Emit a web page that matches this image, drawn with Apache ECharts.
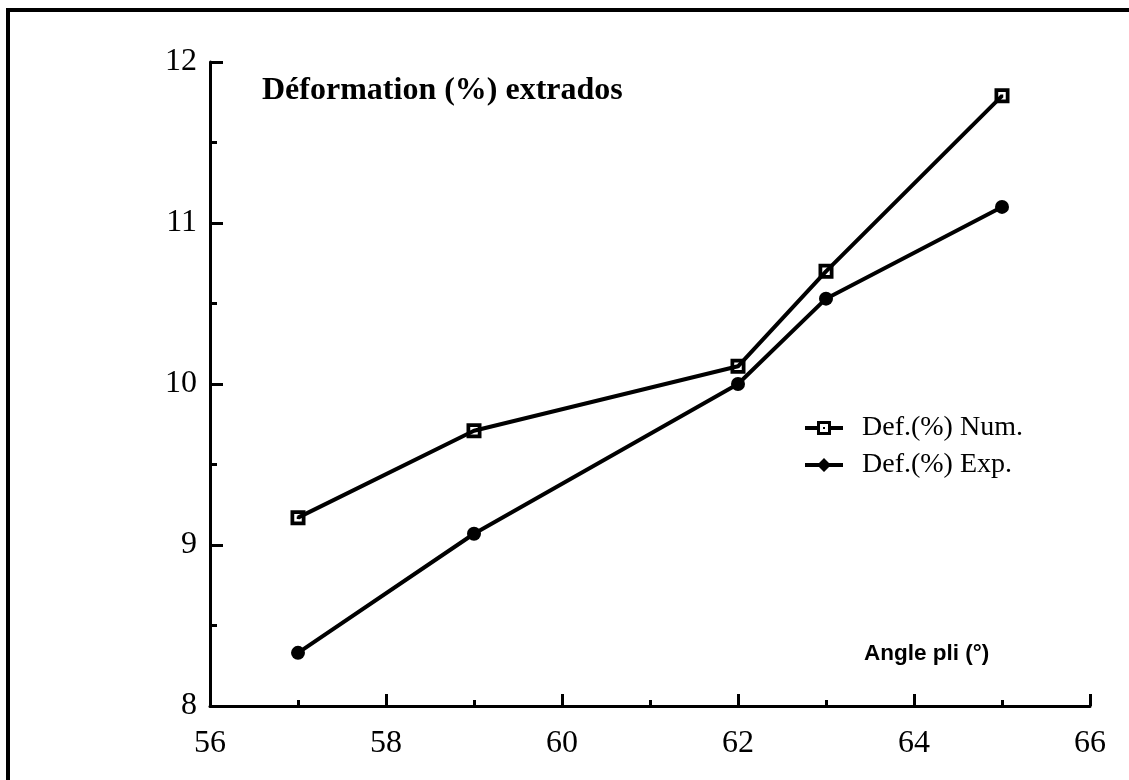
<!DOCTYPE html>
<html>
<head>
<meta charset="utf-8">
<script src="https://cdn.jsdelivr.net/npm/echarts@6/dist/echarts.min.js"></script>
<style>
  html, body { margin: 0; padding: 0; background: #fff; }
  #chart { width: 1129px; height: 780px; }
</style>
</head>
<body>
<div id="chart"></div>
<script>
// Bending angle (°) and outer-fibre strain (%)
const angles = [57, 59, 62, 63, 65];
const defNum = [9.17, 9.71, 10.11, 10.70, 11.79];
const defExp = [8.33, 9.07, 10.00, 10.53, 11.10];
const seriesNames = ['Def.(%) Num.', 'Def.(%) Exp.'];
const titleText = 'Déformation (%) extrados';
const xAxisName = 'Angle pli (°)';

const serif = '"Liberation Serif", "Times New Roman", serif';
const sans = '"Liberation Sans", Arial, sans-serif';

// open square with a centre dot (nonzero winding: outer cw, hole ccw, dot cw)
const squareDot = 'path://M0,0H12V12H0Z M3,3V9H9V3Z M5,5H7V7H5Z';
// legend keys: short line segment with the series marker in the middle
const keyNum = 'path://M0,5H12V9H0Z M26,5H38V9H26Z M12,0H26V14H12Z M15,3V11H23V3Z M18,6H20V8H18Z';
const keyExp = 'path://M0,5H38V9H0Z M19,0L26,7L19,14L12,7Z';

const pairs = (xs, ys) => xs.map((x, i) => [x, ys[i]]);

const chart = echarts.init(document.getElementById('chart'));
chart.setOption({
  backgroundColor: '#fff',
  animation: false,
  grid: { left: 210, right: 39, top: 62, bottom: 74 },
  xAxis: {
    type: 'value', min: 56, max: 66, interval: 2,
    axisLine: { onZero: false, lineStyle: { color: '#000', width: 3 } },
    axisTick: { inside: true, length: 12, lineStyle: { color: '#000', width: 3 } },
    minorTick: { show: true, splitNumber: 2, length: 6, lineStyle: { color: '#000', width: 3 } },
    splitLine: { show: false },
    axisLabel: { color: '#000', fontFamily: serif, fontSize: 32, margin: 22 }
  },
  yAxis: {
    type: 'value', min: 8, max: 12, interval: 1,
    axisLine: { show: true, onZero: false, lineStyle: { color: '#000', width: 3 } },
    axisTick: { show: true, inside: true, length: 13, lineStyle: { color: '#000', width: 3 } },
    minorTick: { show: true, splitNumber: 2, length: 7, lineStyle: { color: '#000', width: 3 } },
    splitLine: { show: false },
    axisLabel: { color: '#000', fontFamily: serif, fontSize: 32, margin: 13 }
  },
  legend: {
    orient: 'vertical',
    left: 800, top: 409,
    itemWidth: 38, itemHeight: 14, itemGap: 9,
    textStyle: { color: '#000', fontFamily: serif, fontSize: 28, padding: [0, 0, 0, 14] },
    data: [
      { name: seriesNames[0], icon: keyNum },
      { name: seriesNames[1], icon: keyExp }
    ]
  },
  series: [
    {
      name: seriesNames[0], type: 'line',
      data: pairs(angles, defNum),
      symbol: squareDot, symbolSize: 15,
      lineStyle: { color: '#000', width: 4 },
      itemStyle: { color: '#000' }
    },
    {
      name: seriesNames[1], type: 'line',
      data: pairs(angles, defExp),
      symbol: 'circle', symbolSize: 14,
      lineStyle: { color: '#000', width: 4 },
      itemStyle: { color: '#000' }
    }
  ],
  graphic: [
    { type: 'text', left: 262, top: 75,
      style: { text: titleText, fill: '#000', font: 'bold 32px ' + serif } },
    { type: 'text', left: 864, top: 642,
      style: { text: xAxisName, fill: '#000', font: 'bold 22.5px ' + sans } },
    { type: 'line', shape: { x1: 7, y1: 10, x2: 1129, y2: 10 },
      style: { stroke: '#000', lineWidth: 4 } },
    { type: 'line', shape: { x1: 8, y1: 8, x2: 8, y2: 780 },
      style: { stroke: '#000', lineWidth: 4 } }
  ]
});
</script>
</body>
</html>
